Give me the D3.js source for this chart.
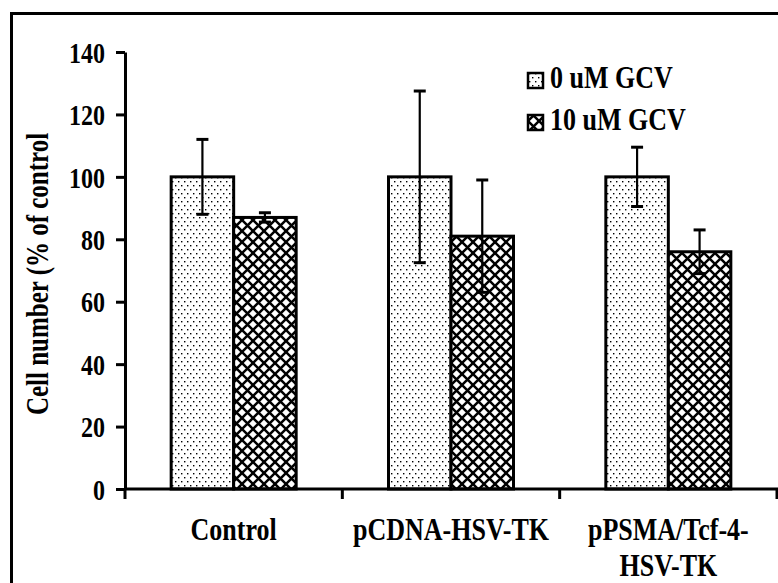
<!DOCTYPE html>
<html>
<head>
<meta charset="utf-8">
<script src="https://cdn.jsdelivr.net/npm/d3@7"></script>
<style>
  html, body { margin: 0; padding: 0; background: #fff; }
  svg { display: block; }
  text { font-family: "Liberation Serif", "Times New Roman", serif; font-weight: bold; fill: #000; }
</style>
</head>
<body>
<script>
// Cell number after GCV treatment, per construct
const categories = ["Control", "pCDNA-HSV-TK", "pPSMA/Tcf-4-HSV-TK"];
const categoryLines = [["Control"], ["pCDNA-HSV-TK"], ["pPSMA/Tcf-4-", "HSV-TK"]];
const seriesNames = ["0 uM GCV", "10 uM GCV"];
const gcv0Values = [100, 100, 100];
const gcv0Errors = [12, 27.5, 9.5];
const gcv10Values = [87, 81, 76];
const gcv10Errors = [1.5, 18, 7];
const yTicks = [0, 20, 40, 60, 80, 100, 120, 140];

const W = 778, H = 583;
const TALL = 1.25; // vertical stretch of the bold serif lettering
const svg = d3.select("body").append("svg").attr("width", W).attr("height", H);

// Fill patterns: fine stipple and diagonal cross-hatch
const defs = svg.append("defs");
const dots = defs.append("pattern").attr("id", "dots")
  .attr("patternUnits", "userSpaceOnUse").attr("width", 6).attr("height", 8);
dots.append("rect").attr("width", 6).attr("height", 8).attr("fill", "#fff");
dots.append("rect").attr("x", 1).attr("y", 1).attr("width", 1.4).attr("height", 1.4).attr("fill", "#000");
dots.append("rect").attr("x", 4).attr("y", 5).attr("width", 1.4).attr("height", 1.4).attr("fill", "#000");

const hatch = defs.append("pattern").attr("id", "hatch")
  .attr("patternUnits", "userSpaceOnUse").attr("width", 11).attr("height", 11);
hatch.append("rect").attr("width", 11).attr("height", 11).attr("fill", "#fff");
hatch.append("path").attr("d", "M-1,-1L12,12M12,-1L-1,12M-1,10L1,12M10,-1L12,1")
  .attr("stroke", "#000").attr("stroke-width", 2.5);

const fills = ["url(#dots)", "url(#hatch)"];

// Outer frame running off the right and bottom edges
svg.append("rect").attr("x", 11.5).attr("y", 13.5).attr("width", 800).attr("height", 620)
  .attr("fill", "none").attr("stroke", "#000").attr("stroke-width", 3);

const margin = { left: 125, right: 777, top: 52, bottom: 489 };

const y = d3.scaleLinear().domain([0, 140]).range([margin.bottom, margin.top]);
const x0 = d3.scaleBand().domain(categories).range([margin.left, margin.right]).padding(0);
const groupW = 125;
const x1 = d3.scaleBand().domain(seriesNames).range([0, groupW]).padding(0);
const offset = (x0.bandwidth() - groupW) / 2;

const series = [
  { name: seriesNames[0], values: gcv0Values, errors: gcv0Errors },
  { name: seriesNames[1], values: gcv10Values, errors: gcv10Errors }
];

// Bars
series.forEach((s, si) => {
  svg.append("g").selectAll("rect").data(categories).join("rect")
    .attr("x", c => x0(c) + offset + x1(s.name))
    .attr("y", (c, i) => y(s.values[i]))
    .attr("width", x1.bandwidth())
    .attr("height", (c, i) => y(0) - y(s.values[i]))
    .attr("fill", fills[si])
    .attr("stroke", "#000").attr("stroke-width", 3);
});

// Error bars
series.forEach((s, si) => {
  const g = svg.append("g");
  categories.forEach((c, i) => {
    const cx = x0(c) + offset + x1(s.name) + x1.bandwidth() / 2;
    const top = y(s.values[i] + s.errors[i]);
    const bot = y(s.values[i] - s.errors[i]);
    g.append("line").attr("x1", cx).attr("x2", cx).attr("y1", top).attr("y2", bot)
      .attr("stroke", "#000").attr("stroke-width", 2.2);
    [top, bot].forEach(v => g.append("line").attr("x1", cx - 6).attr("x2", cx + 6)
      .attr("y1", v).attr("y2", v).attr("stroke", "#000").attr("stroke-width", 3));
  });
});

// Y axis
const yAxis = svg.append("g").attr("transform", `translate(${margin.left},0)`)
  .call(d3.axisLeft(y).tickValues(yTicks).tickSize(9).tickPadding(11).tickSizeOuter(0));
yAxis.select(".domain").attr("stroke-width", 3);
yAxis.selectAll(".tick line").attr("stroke-width", 3);
yAxis.selectAll(".tick text").attr("font-size", 24).attr("dy", "0.34em")
  .attr("transform", `scale(1,${TALL})`)
  .style("font-family", "'Liberation Serif', serif").style("font-weight", "bold");

// X axis with ticks at the category boundaries
const xAxisG = svg.append("g").attr("transform", `translate(0,${margin.bottom})`);
xAxisG.append("line").attr("x1", margin.left - 1).attr("x2", margin.right + 1)
  .attr("y1", 0).attr("y2", 0).attr("stroke", "#000").attr("stroke-width", 3);
const boundaries = categories.map(c => x0(c)).concat([x0(categories[2]) + x0.bandwidth()]);
xAxisG.selectAll("line.tick").data(boundaries).join("line").attr("class", "tick")
  .attr("x1", d => d).attr("x2", d => d).attr("y1", 0).attr("y2", 10)
  .attr("stroke", "#000").attr("stroke-width", 3);

// Category labels
categories.forEach((c, i) => {
  const cx = x0(c) + x0.bandwidth() / 2;
  categoryLines[i].forEach((line, li) => {
    svg.append("text").attr("text-anchor", "middle").attr("font-size", 26)
      .attr("transform", `translate(${cx},${540 + li * 36}) scale(1,${TALL})`)
      .text(line);
  });
});

// Y axis title
svg.append("text").attr("transform", `translate(48,274) rotate(-90) scale(1,${TALL})`)
  .attr("text-anchor", "middle").attr("font-size", 25)
  .text("Cell number (% of control");

// Legend
const legend = svg.append("g");
series.forEach((s, si) => {
  const ly = 73 + si * 42;
  legend.append("rect").attr("x", 528).attr("y", ly).attr("width", 15).attr("height", 15)
    .attr("fill", fills[si]).attr("stroke", "#000").attr("stroke-width", 2.5);
  legend.append("text").attr("font-size", 26)
    .attr("transform", `translate(550,${ly + 15}) scale(1,${TALL})`).text(s.name);
});
</script>
</body>
</html>
